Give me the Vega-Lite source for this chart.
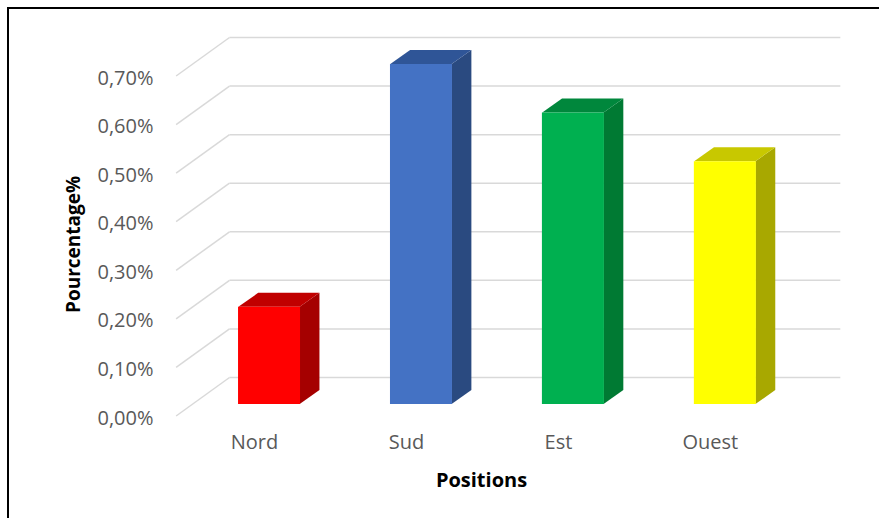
{
  "$schema": "https://vega.github.io/schema/vega-lite/v6.json",
  "width": 873,
  "height": 512,
  "autosize": {"type": "none"},
  "padding": {"left": 8, "top": 8, "right": 0, "bottom": 0},
  "background": "#ffffff",
  "config": {
    "view": {"stroke": "#000000", "strokeWidth": 2},
    "font": "Open Sans"
  },
  "datasets": {
    "bars": [
      {"pos": "Nord", "i": 0, "v": 0.002},
      {"pos": "Sud", "i": 1, "v": 0.007},
      {"pos": "Est", "i": 2, "v": 0.006},
      {"pos": "Ouest", "i": 3, "v": 0.005}
    ],
    "grid": [
      {"t": 0}, {"t": 0.001}, {"t": 0.002}, {"t": 0.003},
      {"t": 0.004}, {"t": 0.005}, {"t": 0.006}, {"t": 0.007}
    ]
  },
  "layer": [
    {
      "data": {"name": "grid"},
      "mark": {"type": "rule", "color": "#D9D9D9", "strokeWidth": 1.5, "yOffset": 12, "y2Offset": -26.5},
      "encoding": {
        "x": {
          "datum": -0.6116, "type": "quantitative",
          "scale": {"domain": [-1.6851, 3.99479], "zero": false, "nice": false},
          "axis": {
            "orient": "bottom", "offset": -100, "values": [0, 1, 2, 3],
            "labelExpr": "['Nord','Sud','Est','Ouest'][datum.value]",
            "domain": false, "ticks": false, "grid": false,
            "labelOffset": -15, "labelPadding": 22, "labelBaseline": "middle",
            "labelFont": "Open Sans", "labelFontSize": 20, "labelColor": "#595959",
            "title": "Positions", "titleFont": "Open Sans", "titleFontSize": 20, "titleFontWeight": "bold", "titleColor": "#000000",
            "titleX": 473, "titleY": 60, "titleBaseline": "middle", "titleAlign": "center"
          }
        },
        "x2": {"datum": -0.2602},
        "y": {
          "field": "t", "type": "quantitative",
          "scale": {"domain": [-0.0023883, 0.0081532], "zero": false, "nice": false},
          "axis": {
            "orient": "left", "offset": -165,
            "values": [0, 0.001, 0.002, 0.003, 0.004, 0.005, 0.006, 0.007],
            "labelExpr": "replace(format(datum.value, '.2%'), '.', ',')",
            "domain": false, "ticks": false, "grid": false,
            "labelOffset": 14, "labelPadding": 20, "labelBaseline": "middle",
            "labelFont": "Open Sans", "labelFontSize": 20, "labelColor": "#595959",
            "title": "Pourcentage%", "titleFont": "Open Sans", "titleFontSize": 19, "titleFontWeight": "bold", "titleColor": "#000000",
            "titleX": -100, "titleY": 236, "titleBaseline": "middle", "titleAlign": "center", "titleAngle": 270
          }
        },
        "y2": {"field": "t"}
      }
    },
    {
      "data": {"name": "grid"},
      "mark": {"type": "rule", "color": "#D9D9D9", "strokeWidth": 1.5, "yOffset": -26.5},
      "encoding": {
        "x": {"datum": -0.2602, "type": "quantitative"},
        "x2": {"datum": 3.76},
        "y": {"field": "t", "type": "quantitative"}
      }
    },
    {
      "data": {"name": "bars"},
      "transform": [
        {"calculate": "[0,1]", "as": "k"},
        {"flatten": ["k"]},
        {"calculate": "datum.i + 0.2017 + datum.k * 0.1301", "as": "sx"},
        {"calculate": "datum.v + datum.k * 0.000288", "as": "stop"},
        {"calculate": "datum.k * 0.000288", "as": "sbot"}
      ],
      "mark": {"type": "area"},
      "encoding": {
        "x": {"field": "sx", "type": "quantitative"},
        "y": {"field": "stop", "type": "quantitative"},
        "y2": {"field": "sbot"},
        "color": {"field": "pos", "type": "nominal", "scale": {"domain": ["Nord", "Sud", "Est", "Ouest"], "range": ["#A50000", "#2A4A80", "#007A33", "#A8A800"]}, "legend": null}
      }
    },
    {
      "data": {"name": "bars"},
      "transform": [
        {"calculate": "[0,1,2,3]", "as": "k"},
        {"flatten": ["k"]},
        {"calculate": "datum.i + (datum.k == 0 ? -0.2017 : datum.k == 1 ? -0.0716 : datum.k == 2 ? 0.2017 : 0.3318)", "as": "tx"},
        {"calculate": "datum.k == 0 ? datum.v : datum.v + 0.000288", "as": "ttop"},
        {"calculate": "datum.k == 3 ? datum.v + 0.000288 : datum.v", "as": "tbot"}
      ],
      "mark": {"type": "area"},
      "encoding": {
        "x": {"field": "tx", "type": "quantitative"},
        "y": {"field": "ttop", "type": "quantitative"},
        "y2": {"field": "tbot"},
        "color": {"field": "pos", "type": "nominal", "scale": {"domain": ["Nord", "Sud", "Est", "Ouest"], "range": ["#C00000", "#2F5597", "#00873C", "#C8C800"]}, "legend": null}
      }
    },
    {
      "data": {"name": "bars"},
      "mark": {"type": "bar", "width": 62},
      "encoding": {
        "x": {"field": "i", "type": "quantitative"},
        "y": {"field": "v", "type": "quantitative"},
        "y2": {"datum": 0},
        "color": {"field": "pos", "type": "nominal", "scale": {"domain": ["Nord", "Sud", "Est", "Ouest"], "range": ["#FF0000", "#4472C4", "#00B050", "#FFFF00"]}, "legend": null}
      }
    }
  ],
  "resolve": {"scale": {"color": "independent"}}
}
